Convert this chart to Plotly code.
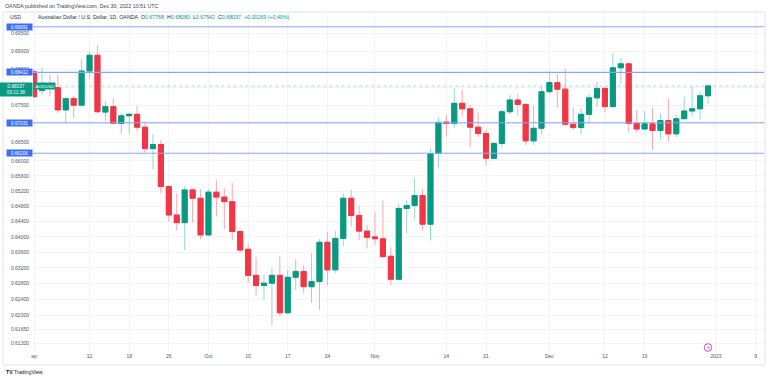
import math
import pandas as pd
import plotly.graph_objects as go

# ---------------- data ----------------
holidays = ["2022-12-26"]
dates = [d.strftime("%Y-%m-%d") for d in pd.bdate_range("2022-09-01", "2022-12-30")
         if d.strftime("%Y-%m-%d") not in holidays]
future_dates = ["2023-01-02", "2023-01-03", "2023-01-04", "2023-01-05", "2023-01-06",
                "2023-01-09", "2023-01-10"]

opens = [0.6843, 0.6791, 0.6804, 0.6799, 0.6738, 0.6769, 0.6751, 0.6845, 0.6889, 0.6732,
         0.6747, 0.6701, 0.6722, 0.6726, 0.6691, 0.6633, 0.6644, 0.6532, 0.6457, 0.6437,
         0.6523, 0.6501, 0.6405, 0.6517, 0.6504, 0.6492, 0.6414, 0.6368, 0.6301, 0.6275,
         0.6281, 0.6301, 0.6206, 0.6296, 0.6311, 0.6272, 0.6285, 0.6386, 0.6315, 0.6396,
         0.6501, 0.6456, 0.6415, 0.6400, 0.6395, 0.6350, 0.6291, 0.6474, 0.6482, 0.6508,
         0.6433, 0.6620, 0.6705, 0.6701, 0.6756, 0.6741, 0.6691, 0.6674, 0.6607, 0.6647,
         0.6733, 0.6765, 0.6753, 0.6654, 0.6688, 0.6788, 0.6813, 0.6795, 0.6699, 0.6690,
         0.6726, 0.6771, 0.6797, 0.6747, 0.6854, 0.6865, 0.6701, 0.6686, 0.6700, 0.6682,
         0.6709, 0.6673, 0.6714, 0.6735, 0.6741, 0.67768]
highs = [0.6850, 0.6855, 0.6834, 0.6834, 0.6772, 0.6776, 0.6878, 0.6899, 0.6917, 0.6762,
         0.6770, 0.6729, 0.6730, 0.6749, 0.6706, 0.6672, 0.6656, 0.6535, 0.6514, 0.6533,
         0.6527, 0.6525, 0.6525, 0.6549, 0.6527, 0.6542, 0.6416, 0.6383, 0.6347, 0.6302,
         0.6319, 0.6349, 0.6315, 0.6342, 0.6327, 0.6357, 0.6394, 0.6413, 0.6415, 0.6514,
         0.6523, 0.6481, 0.6431, 0.6466, 0.6495, 0.6373, 0.6486, 0.6495, 0.6554, 0.6525,
         0.6634, 0.6718, 0.6724, 0.6797, 0.6794, 0.6751, 0.6731, 0.6685, 0.6652, 0.6740,
         0.6779, 0.6782, 0.6756, 0.6749, 0.6802, 0.6845, 0.6837, 0.6851, 0.6745, 0.6742,
         0.6782, 0.6815, 0.6802, 0.6894, 0.6882, 0.6869, 0.6738, 0.6735, 0.6745, 0.6729,
         0.6768, 0.6724, 0.6774, 0.6803, 0.6788, 0.68080]
lows = [0.6770, 0.6779, 0.6774, 0.6729, 0.6701, 0.6715, 0.6748, 0.6825, 0.6730, 0.6708,
        0.6699, 0.6672, 0.6674, 0.6679, 0.6622, 0.6576, 0.6514, 0.6440, 0.6416, 0.6366,
        0.6437, 0.6394, 0.6402, 0.6453, 0.6420, 0.6392, 0.6357, 0.6281, 0.6250, 0.6240,
        0.6174, 0.6198, 0.6205, 0.6264, 0.6255, 0.6232, 0.6213, 0.6276, 0.6306, 0.6376,
        0.6427, 0.6392, 0.6370, 0.6379, 0.6347, 0.6275, 0.6289, 0.6409, 0.6446, 0.6417,
        0.6390, 0.6580, 0.6665, 0.6688, 0.6720, 0.6636, 0.6663, 0.6587, 0.6604, 0.6636,
        0.6726, 0.6722, 0.6643, 0.6643, 0.6672, 0.6781, 0.6744, 0.6694, 0.6683, 0.6672,
        0.6701, 0.6745, 0.6731, 0.6744, 0.6811, 0.6679, 0.6677, 0.6683, 0.6631, 0.6658,
        0.6652, 0.6663, 0.6712, 0.6721, 0.6712, 0.67542]
closes = [0.6774, 0.6804, 0.6799, 0.6738, 0.6769, 0.6751, 0.6845, 0.6889, 0.6733, 0.6747,
          0.6701, 0.6722, 0.6726, 0.6691, 0.6633, 0.6644, 0.6532, 0.6457, 0.6437, 0.6523,
          0.6501, 0.6405, 0.6517, 0.6504, 0.6492, 0.6414, 0.6366, 0.6301, 0.6275, 0.6281,
          0.6301, 0.6206, 0.6296, 0.6311, 0.6272, 0.6285, 0.6386, 0.6315, 0.6396, 0.6501,
          0.6456, 0.6415, 0.6399, 0.6395, 0.6349, 0.6291, 0.6474, 0.6482, 0.6508, 0.6433,
          0.6620, 0.6704, 0.6701, 0.6756, 0.6741, 0.6691, 0.6674, 0.6607, 0.6647, 0.6733,
          0.6765, 0.6753, 0.6654, 0.6688, 0.6788, 0.6813, 0.6795, 0.6699, 0.6690, 0.6726,
          0.6771, 0.6797, 0.6747, 0.6854, 0.6865, 0.6701, 0.6686, 0.6700, 0.6682, 0.6709,
          0.6673, 0.6714, 0.6735, 0.6741, 0.67768, 0.68037]

levels = [0.69691, 0.68412, 0.67031, 0.66206]

y_ticks = [0.695, 0.690, 0.685, 0.680, 0.675, 0.670, 0.665, 0.660, 0.656, 0.652,
           0.648, 0.644, 0.640, 0.636, 0.632, 0.628, 0.624, 0.620, 0.6165, 0.613]
hidden_ticks = [0.680, 0.670]          # covered by price labels in the reference
y_ticktext = ["" if v in hidden_ticks else "%.5f" % v for v in y_ticks]

tick_dates = ["2022-09-01", "2022-09-12", "2022-09-19", "2022-09-26", "2022-10-03",
              "2022-10-10", "2022-10-17", "2022-10-24", "2022-11-01", "2022-11-14",
              "2022-11-21", "2022-12-01", "2022-12-12", "2022-12-19", "2023-01-02",
              "2023-01-09"]
tick_text = ["ep", "12", "19", "26", "Oct", "10", "17", "24", "Nov", "14", "21", "Dec",
             "12", "19", "2023", "9"]

# ---------------- layout constants ----------------
W, H = 768, 380
L, R, T, B = 33, 4, 12, 28
PW, PH = W - L - R, H - T - B
Y_LO, Y_HI = 0.61082, 0.70108
X_LO, X_HI = -0.13, 92.06

def px(x):
    return (x - L) / PW

def py(y):
    return (H - B - y) / PH

GREEN = "#089981"
RED = "#f23645"
BLUE_LINE = "#8aa7f7"
BLUE_BOX = "#3d6df6"
TXT = "#50535e"
FONT = "Liberation Sans, Arial, sans-serif"

axis_dates = dates + future_dates
xpos = [axis_dates.index(d) for d in dates]
tickvals = [axis_dates.index(d) for d in tick_dates]

fig = go.Figure()

# horizontal levels
for lv in levels:
    fig.add_trace(go.Scatter(x=[X_LO - 5, X_HI + 5], y=[lv, lv], mode="lines",
                             line=dict(color=BLUE_LINE, width=1.1),
                             hoverinfo="skip", showlegend=False))
# last price dotted line
fig.add_trace(go.Scatter(x=[X_LO - 5, X_HI + 5], y=[closes[-1], closes[-1]], mode="lines",
                         line=dict(color="rgba(8,153,129,0.35)", width=1, dash="dot"),
                         hoverinfo="skip", showlegend=False))

# wicks (light) + bodies (solid)
fig.add_trace(go.Candlestick(
    x=xpos, open=opens, high=highs, low=lows, close=closes,
    increasing=dict(line=dict(color="#98d6ca", width=1), fillcolor=GREEN),
    decreasing=dict(line=dict(color="#f8a8b0", width=1), fillcolor=RED),
    whiskerwidth=0, hoverinfo="skip", showlegend=False))
body_hi = [max(o, c) for o, c in zip(opens, closes)]
body_lo = [min(o, c) for o, c in zip(opens, closes)]
fig.add_trace(go.Candlestick(
    x=xpos, open=opens, high=body_hi, low=body_lo, close=closes,
    increasing=dict(line=dict(color=GREEN, width=1), fillcolor=GREEN),
    decreasing=dict(line=dict(color=RED, width=1), fillcolor=RED),
    whiskerwidth=0, hoverinfo="skip", showlegend=False))

annotations = []
for lv in levels:
    annotations.append(dict(xref="paper", yref="y", x=0, y=math.log10(lv), xanchor="right",
                            yanchor="middle", text="%.5f" % lv, showarrow=False,
                            font=dict(size=4.8, color="white", family=FONT),
                            bgcolor=BLUE_BOX, width=24, height=5, borderpad=0.5))
annotations.append(dict(xref="paper", yref="y", x=0, y=math.log10(closes[-1]), xanchor="right",
                        yanchor="top", yshift=4, text="%.5f<br>03:11:38" % closes[-1],
                        showarrow=False, font=dict(size=4.8, color="white", family=FONT),
                        bgcolor=GREEN, width=30, borderpad=1))
annotations.append(dict(xref="paper", yref="y", x=px(34), y=math.log10(closes[-1]),
                        xanchor="left", yanchor="middle", text="AUDUSD", showarrow=False,
                        font=dict(size=4.4, color="white", family=FONT),
                        bgcolor=GREEN, borderpad=0.6))

chg = closes[-1] - closes[-2]
pct = chg / closes[-2] * 100
g = "<span style='color:%s'>%s</span>"
title_row = ("Australian Dollar / U.S. Dollar, 1D, OANDA  "
             "O" + g % (GREEN, "%.5f" % opens[-1]) + "  "
             "H" + g % (GREEN, "%.5f" % highs[-1]) + "  "
             "L" + g % (GREEN, "%.5f" % lows[-1]) + "  "
             "C" + g % (GREEN, "%.5f" % closes[-1]) + "  " +
             g % (GREEN, "%+.5f (%+.2f%%)" % (chg, pct)))
annotations.append(dict(xref="paper", yref="paper", x=px(36), y=py(17), xanchor="left",
                        yanchor="middle", text=title_row, showarrow=False,
                        font=dict(size=5.3, color="#2a2e39", family=FONT)))
annotations.append(dict(xref="paper", yref="paper", x=px(8), y=py(17), xanchor="left",
                        yanchor="middle", text="USD", showarrow=False,
                        font=dict(size=5.2, color="#2a2e39", family=FONT)))
annotations.append(dict(xref="paper", yref="paper", x=px(3), y=py(6), xanchor="left",
                        yanchor="middle",
                        text="OANDA published on TradingView.com, Dec 30, 2022 10:51 UTC",
                        showarrow=False, font=dict(size=5.3, color="#3c3f48", family=FONT)))
annotations.append(dict(xref="paper", yref="paper", x=px(4), y=py(372), xanchor="left",
                        yanchor="middle", text="<b>TV</b> TradingView", showarrow=False,
                        font=dict(size=5.2, color="#131722", family=FONT)))
annotations.append(dict(xref="paper", yref="paper", x=px(708), y=py(347.5), xanchor="center",
                        yanchor="middle", text="ϟ", showarrow=False,
                        font=dict(size=5.5, color="#b040d0", family=FONT)))

shapes = [
    dict(type="rect", xref="paper", yref="paper", x0=px(3), x1=px(765), y0=py(365), y1=py(12),
         line=dict(color="#e0e3eb", width=1), fillcolor="rgba(0,0,0,0)", layer="below"),
    dict(type="circle", xref="paper", yref="paper", x0=px(704.2), x1=px(711.8),
         y0=py(351.3), y1=py(343.7), line=dict(color="#b040d0", width=0.9)),
]

fig.update_layout(
    width=W, height=H, margin=dict(l=L, r=R, t=T, b=B, autoexpand=False),
    paper_bgcolor="white", plot_bgcolor="white",
    showlegend=False, hovermode=False,
    boxgap=0.36, boxgroupgap=0,
    annotations=annotations, shapes=shapes,
    font=dict(family=FONT, color=TXT),
)
fig.update_xaxes(range=[X_LO, X_HI], tickvals=tickvals, ticktext=tick_text,
                 showgrid=True, gridcolor="#f1f3f7", gridwidth=1, zeroline=False,
                 showline=False, ticks="", tickfont=dict(size=5, color=TXT, family=FONT),
                 rangeslider=dict(visible=False), fixedrange=True, automargin=False)
fig.update_yaxes(type="log", range=[math.log10(Y_LO), math.log10(Y_HI)],
                 tickvals=y_ticks, ticktext=y_ticktext, showgrid=True, gridcolor="#f1f3f7",
                 gridwidth=1, zeroline=False, showline=False, ticks="",
                 tickfont=dict(size=5, color=TXT, family=FONT), ticklabelstandoff=3,
                 fixedrange=True, automargin=False)

fig.write_html("out.html", config=dict(displayModeBar=False),
               post_script="document.body.style.margin='0';document.body.style.padding='0';")
